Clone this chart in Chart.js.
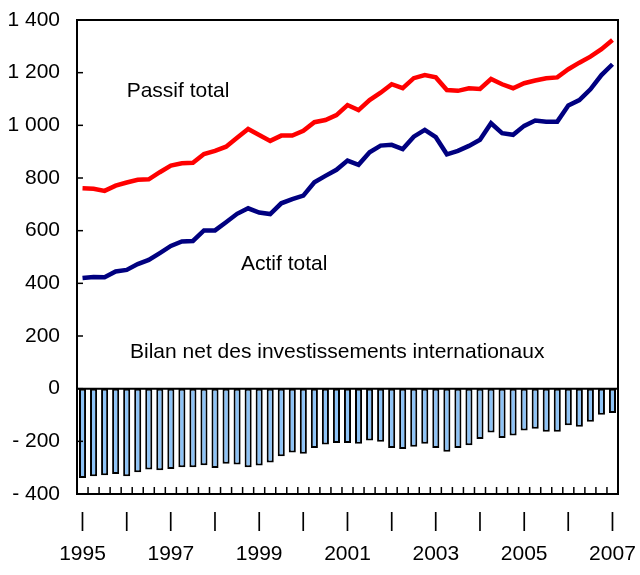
<!DOCTYPE html>
<html><head><meta charset="utf-8">
<script src="https://cdn.jsdelivr.net/npm/chart.js@4/dist/chart.umd.min.js"></script>
<style>html,body{margin:0;padding:0;background:#fff}#wrap{width:640px;height:575px}</style>
</head><body><div id="wrap"><canvas id="c" width="640" height="575"></canvas></div>
<script>
const quarters = [
 '1995T1','1995T2','1995T3','1995T4','1996T1','1996T2','1996T3','1996T4',
 '1997T1','1997T2','1997T3','1997T4','1998T1','1998T2','1998T3','1998T4',
 '1999T1','1999T2','1999T3','1999T4','2000T1','2000T2','2000T3','2000T4',
 '2001T1','2001T2','2001T3','2001T4','2002T1','2002T2','2002T3','2002T4',
 '2003T1','2003T2','2003T3','2003T4','2004T1','2004T2','2004T3','2004T4',
 '2005T1','2005T2','2005T3','2005T4','2006T1','2006T2','2006T3','2006T4',
 '2007T1'];
const yearTickLabels = ['1995','','1997','','1999','','2001','','2003','','2005','','2007'];
const passifTotal = [761,759,751,771,783,793,795,822,847,856,858,891,903,919,953,986,963,941,961,961,979,1012,1020,1039,1077,1058,1096,1124,1156,1141,1179,1191,1182,1134,1131,1141,1138,1176,1156,1141,1160,1170,1179,1182,1213,1238,1261,1289,1324];
const actifTotal = [420,424,423,445,451,473,489,515,542,559,561,601,601,632,664,685,669,663,704,720,733,784,808,831,866,850,898,923,926,910,957,983,955,890,903,922,945,1008,970,964,998,1018,1014,1014,1075,1096,1137,1191,1232];
const bilanNet = [-339,-333,-329,-324,-333,-317,-307,-310,-305,-298,-298,-291,-301,-285,-288,-298,-292,-280,-257,-242,-247,-225,-212,-206,-206,-209,-197,-202,-225,-229,-221,-209,-225,-240,-225,-215,-191,-166,-187,-178,-159,-152,-164,-164,-139,-145,-126,-99,-92];
const labelPassif = 'Passif total';
const labelActif = 'Actif total';
const labelBilan = 'Bilan net des investissements internationaux';

const FONT = '"Liberation Sans", Arial, Helvetica, sans-serif';

function fmt(v){
  const a = Math.abs(v).toString().replace(/\B(?=(\d{3})+(?!\d))/g, ' ');
  return v < 0 ? '- ' + a : a;
}

const decor = {
  id: 'decor',
  afterDatasetsDraw(chart){
    const {ctx, chartArea:a, scales:{x, y}} = chart;
    ctx.save();
    ctx.strokeStyle = '#000';
    ctx.lineWidth = 2;
    const y0 = y.getPixelForValue(0);
    ctx.beginPath(); ctx.moveTo(a.left, y0); ctx.lineTo(a.right, y0); ctx.stroke();
    ctx.lineWidth = 1.5;
    y.ticks.forEach(t => {
      const py = y.getPixelForValue(t.value);
      ctx.beginPath(); ctx.moveTo(a.left, py); ctx.lineTo(a.left + 6, py); ctx.stroke();
    });
    for (let i = 0; i < quarters.length - 1; i++) {
      const px = (x.getPixelForValue(i) + x.getPixelForValue(i + 1)) / 2;
      ctx.beginPath(); ctx.moveTo(px, a.bottom); ctx.lineTo(px, a.bottom - 7); ctx.stroke();
    }
    ctx.lineWidth = 2;
    ctx.strokeRect(a.left, a.top, a.right - a.left, a.bottom - a.top);
    ctx.fillStyle = '#000';
    ctx.font = '21px ' + FONT;
    ctx.textBaseline = 'middle';
    ctx.textAlign = 'left';
    ctx.fillText(labelPassif, x.getPixelForValue(4), y.getPixelForValue(1130));
    ctx.fillText(labelActif, x.getPixelForValue(14.35), y.getPixelForValue(474));
    ctx.fillText(labelBilan, x.getPixelForValue(4.3), y.getPixelForValue(140));
    ctx.restore();
  }
};

new Chart(document.getElementById('c'), {
  type: 'bar',
  data: {
    labels: quarters,
    datasets: [
      { type:'line', label: labelPassif, data: passifTotal, borderColor:'#FF0000', borderWidth:4.5, pointRadius:0, tension:0, order:1 },
      { type:'line', label: labelActif, data: actifTotal, borderColor:'#000080', borderWidth:4.5, pointRadius:0, tension:0, order:2 },
      { type:'bar', label: labelBilan, data: bilanNet, backgroundColor:'#8DC3F7', borderColor:'#000', borderWidth:2, borderSkipped:false, barPercentage:0.64, categoryPercentage:1, order:3 }
    ]
  },
  options: {
    responsive:false, animation:false, devicePixelRatio:1,
    layout:{ padding:{ top:20, right:22, bottom:0, left:0 } },
    plugins:{ legend:{display:false}, tooltip:{enabled:false} },
    scales:{
      x:{
        offset:true,
        grid:{ display:false, drawTicks:false },
        border:{ display:false },
        afterFit(s){ s.height = 81; s.paddingLeft = 0; s.paddingRight = 0; },
        ticks:{
          autoSkip:false, maxRotation:0, minRotation:0, padding:11,
          color:'#000', font:{ family:FONT, size:21, lineHeight:1.55 },
          callback(v, i){ return i % 4 === 0 ? ['|', yearTickLabels[i/4]] : ''; }
        }
      },
      y:{
        min:-400, max:1400,
        grid:{ display:false, drawTicks:false },
        border:{ display:false },
        afterFit(s){ s.width = 77; s.paddingTop = 0; s.paddingBottom = 0; },
        ticks:{ stepSize:200, padding:17, color:'#000', font:{ family:FONT, size:21 }, callback(v){ return fmt(v); } }
      }
    }
  },
  plugins:[decor]
});
</script></body></html>
